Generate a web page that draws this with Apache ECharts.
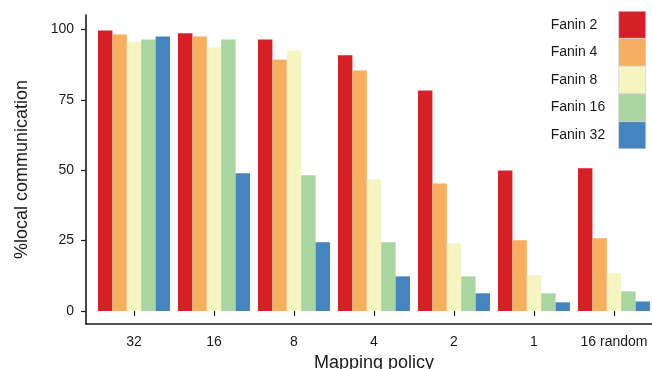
<!DOCTYPE html>
<html>
<head>
<meta charset="utf-8">
<script src="https://cdn.jsdelivr.net/npm/echarts@6/dist/echarts.min.js"></script>
<style>html,body{margin:0;padding:0;background:#fff}#c{width:652px;height:369px}</style>
</head>
<body>
<div id="c"></div>
<script>
const categories = ['32', '16', '8', '4', '2', '1', '16 random'];
const seriesNames = ['Fanin 2', 'Fanin 4', 'Fanin 8', 'Fanin 16', 'Fanin 32'];
const fanin2  = [99.6, 98.6, 96.4, 90.8, 78.3, 49.9, 50.7];
const fanin4  = [98.2, 97.5, 89.3, 85.4, 45.3, 25.1, 25.8];
const fanin8  = [95.4, 93.6, 92.5, 46.7, 24.0, 12.7, 13.4];
const fanin16 = [96.4, 96.4, 48.2, 24.4, 12.3, 6.3, 7.0];
const fanin32 = [97.5, 48.9, 24.4, 12.3, 6.3, 3.1, 3.4];
const yTicks = [0, 25, 50, 75, 100];
const colors = ['#d52027', '#f7ae60', '#f6f5c1', '#a8d5a0', '#4584be'];

const values = [fanin2, fanin4, fanin8, fanin16, fanin32];
const yMin = -4.6, yMax = 105.1;
const FONT = '"Liberation Sans", Arial, Helvetica, sans-serif';
const AX = '#1a1a1a';

const chart = echarts.init(document.getElementById('c'), null, {renderer: 'canvas'});
chart.setOption({
  animation: false,
  color: colors,
  textStyle: {fontFamily: FONT},
  grid: [
    {left: 94, top: 15, width: 560, height: 309, outerBoundsMode: 'none', containLabel: false},
    {left: 86, top: 15, width: 580, height: 309, outerBoundsMode: 'none', containLabel: false}
  ],
  legend: {
    orient: 'vertical',
    right: 6,
    top: 11,
    padding: 0,
    itemGap: 0,
    itemWidth: 27,
    itemHeight: 27,
    align: 'right',
    icon: 'rect',
    itemStyle: {borderColor: '#cccccc', borderWidth: 0.6},
    formatter: '{a|{name}}',
    textStyle: {
      fontFamily: FONT,
      color: '#1a1a1a',
      rich: {a: {width: 63, align: 'left', fontSize: 14, fontFamily: FONT, color: '#1a1a1a'}}
    },
    data: seriesNames
  },
  xAxis: [
    {
      type: 'category', gridIndex: 0, data: categories,
      boundaryGap: true,
      axisLine: {show: false},
      axisTick: {show: true, alignWithLabel: true, length: 5, lineStyle: {color: AX, width: 1.2}},
      axisLabel: {fontSize: 14, color: '#1a1a1a', margin: 11, fontFamily: FONT, interval: 0},
      name: 'Mapping policy', nameLocation: 'middle', nameGap: 28,
      nameTextStyle: {fontSize: 18, color: '#1a1a1a', fontFamily: FONT}
    },
    {
      type: 'value', gridIndex: 1, min: 0, max: 1,
      axisLine: {show: true, onZero: false, lineStyle: {color: AX, width: 1.6}},
      axisTick: {show: false}, axisLabel: {show: false}, splitLine: {show: false}
    }
  ],
  yAxis: [
    {
      type: 'value', gridIndex: 0, min: yMin, max: yMax,
      show: false, splitLine: {show: false}
    },
    {
      type: 'value', gridIndex: 1, min: yMin, max: yMax,
      axisLine: {show: true, onZero: false, lineStyle: {color: AX, width: 1.6}},
      axisTick: {show: true, length: 5, customValues: yTicks, lineStyle: {color: AX, width: 1.2}},
      axisLabel: {customValues: yTicks, fontSize: 14, color: '#1a1a1a', margin: 12, fontFamily: FONT},
      splitLine: {show: false},
      name: '%local communication', nameLocation: 'middle', nameGap: 55, nameRotate: 90,
      nameTextStyle: {fontSize: 18, color: '#1a1a1a', fontFamily: FONT}
    }
  ],
  series: seriesNames.map((n, i) => ({
    name: n,
    type: 'bar',
    xAxisIndex: 0,
    yAxisIndex: 0,
    data: values[i],
    barGap: '0%',
    barCategoryGap: '10%',
    itemStyle: {color: colors[i]}
  }))
});
</script>
</body>
</html>
